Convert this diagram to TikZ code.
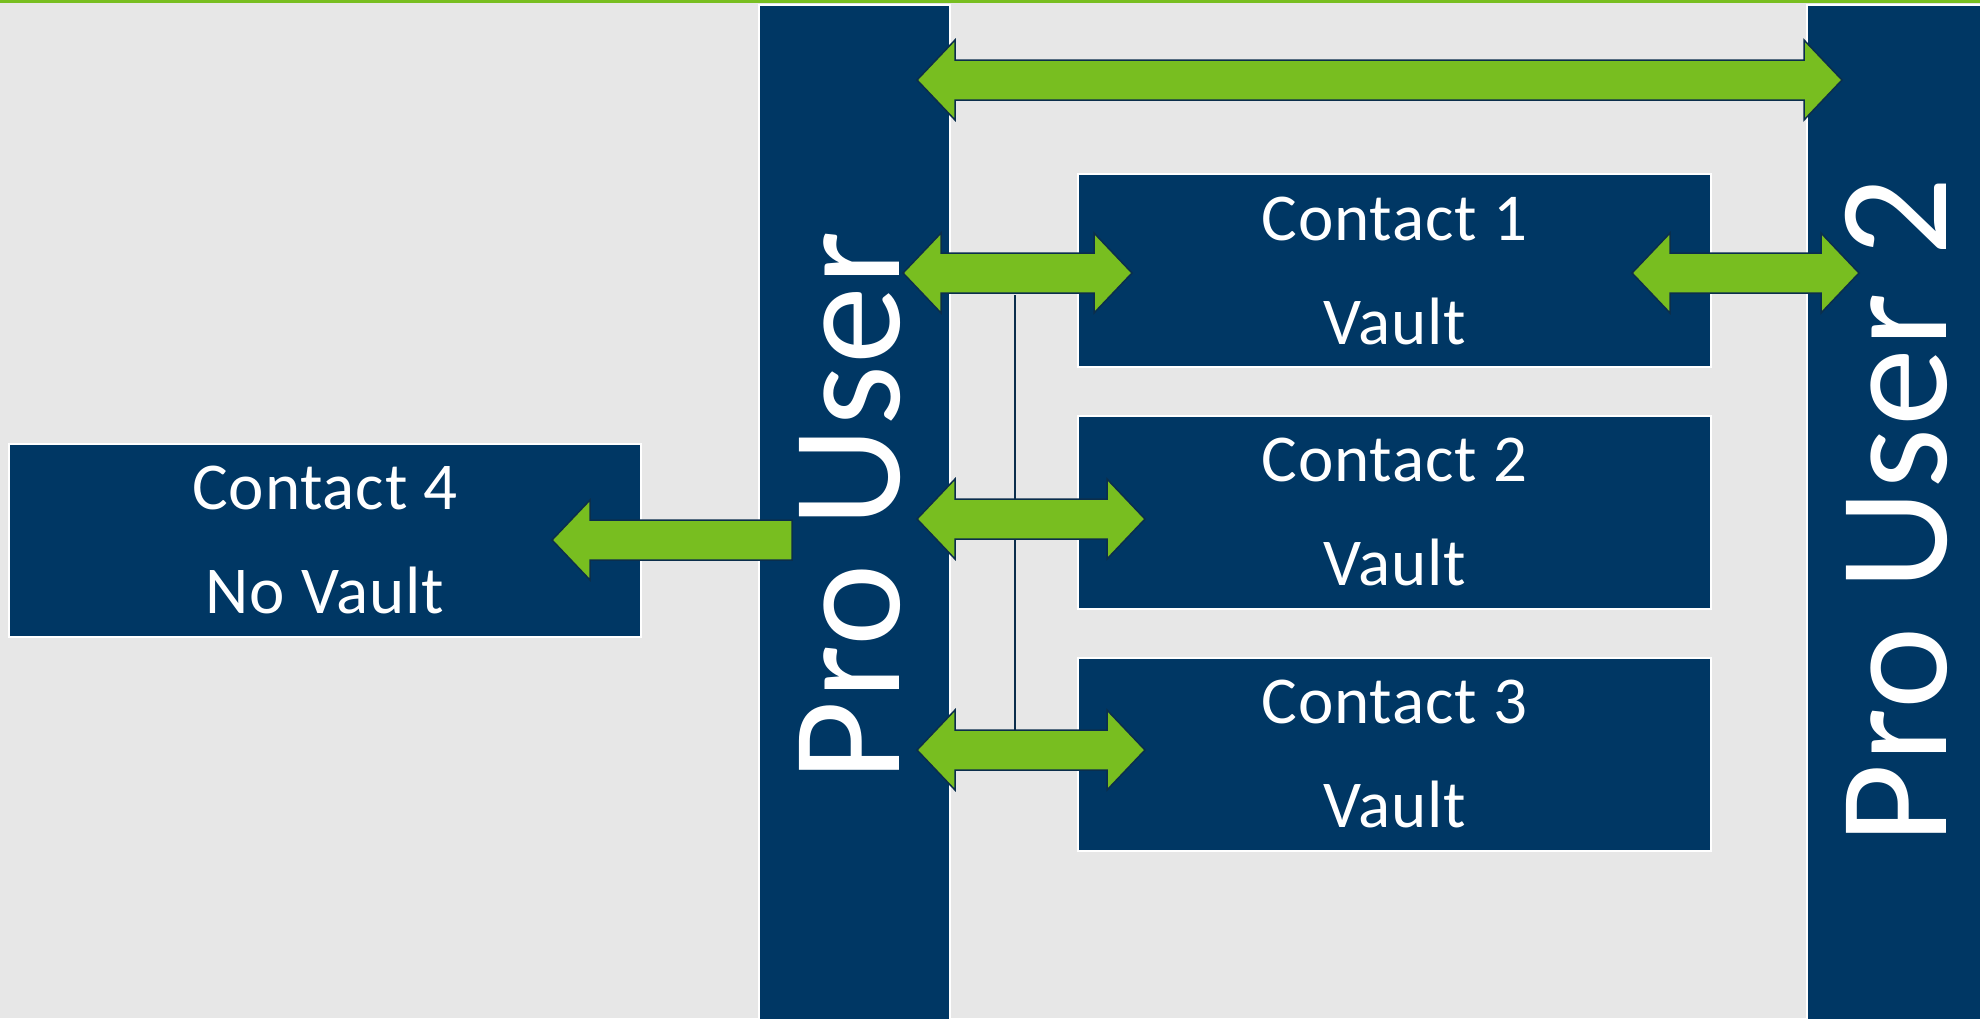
\documentclass[tikz,border=0pt]{standalone}
\usepackage{fontspec}
\newfontfamily\carlito{Carlito}[LetterSpace=1.3]
\newfontfamily\carlitobig{Carlito}[LetterSpace=0.8]
\definecolor{navy}{HTML}{003764}
\definecolor{lime}{HTML}{78BE20}
\definecolor{bgc}{HTML}{E7E7E7}
\definecolor{edgec}{HTML}{0B2E4C}
\newcommand\DblArrow[3]{%
  \draw[blockarrow] (#1,#3) -- ++(38,-40) -- ++(0,20) -- (#2-38,#3-20) -- ++(0,-20)
    -- (#2,#3) -- ++(-38,40) -- ++(0,-20) -- (#1+38,#3+20) -- ++(0,20) -- cycle;}
\begin{document}
\begin{tikzpicture}[x=1pt,y=-1pt,
  box/.style={fill=navy, draw=white, line width=2pt, inner sep=0pt},
  contact/.style={box, minimum width=633pt, minimum height=193pt, text=white,
    align=center, font=\carlito\fontsize{67}{104}\selectfont},
  usertext/.style={rotate=90, inner sep=0pt, text=white,
    font=\carlitobig\fontsize{156}{160}\selectfont},
  blockarrow/.style={fill=lime, draw=edgec, line width=1.5pt, line join=miter},
  link/.style={draw=edgec, line width=1.5pt}]
\useasboundingbox (0,0) rectangle (1980,1018);
\clip (0,0) rectangle (1980,1018);
\fill[bgc] (0,0) rectangle (1980,1018);
\fill[lime] (0,0) rectangle (1980,3);

% users
\node[box, minimum width=191pt, minimum height=1020pt] (pu) at (854.5,515) {};
\node[usertext] (putext) at (850,506) {Pro User};
\node[box, minimum width=183pt, minimum height=1020pt] (pu2) at (1898.5,515) {};
\node[usertext] (pu2text) at (1896.5,511) {Pro User 2};

% contacts
\node[contact] (c1) at (1394.5,270.5) {Contact 1\\Vault};
\node[contact] (c2) at (1394.5,512) {Contact 2\\Vault};
\node[contact] (c3) at (1394.5,754) {Contact 3\\Vault};
\node[contact, minimum width=632pt] (c4) at (325,540) {Contact 4\\No Vault};

% vertical link
\coordinate (vtop) at (1015,295);
\coordinate (vbot) at (1015,730);
\draw[link] (vtop) -- (vbot);

% arrows
\DblArrow{917}{1842}{80}
\DblArrow{903}{1132}{273}
\DblArrow{1632}{1859}{273}
\DblArrow{917}{1145}{519}
\DblArrow{917}{1145}{750}
\draw[blockarrow] (552,540) -- ++(38,-40) -- ++(0,20) -- (792,520) -- (792,560)
  -- (590,560) -- ++(0,20) -- cycle;
\end{tikzpicture}
\end{document}
